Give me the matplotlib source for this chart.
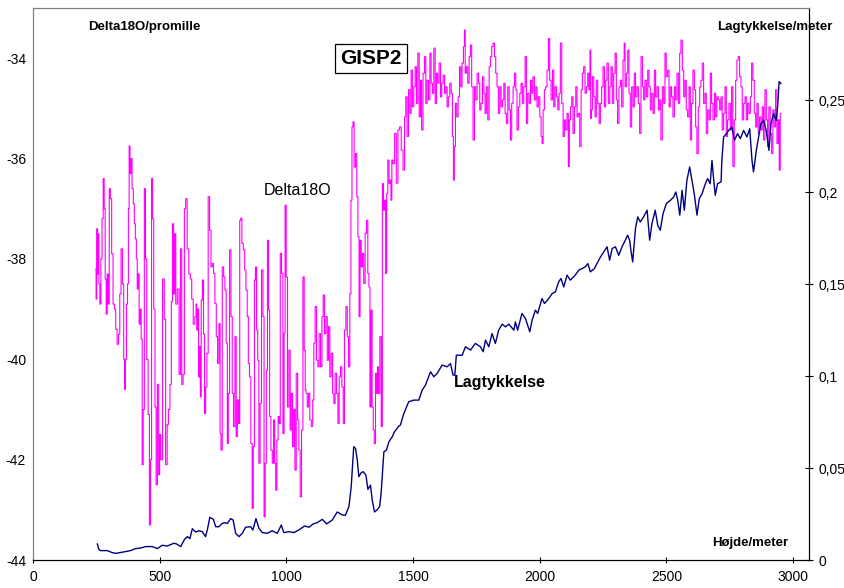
import matplotlib
matplotlib.use("Agg")
import matplotlib.pyplot as plt
from matplotlib.ticker import FuncFormatter

plt.rcParams['font.family'] = ['Liberation Sans', 'DejaVu Sans']
plt.rcParams['axes.unicode_minus'] = False

# Delta18O (promille) vs hoejde (meter)
mag_depth = [
    248, 250, 253, 256, 258, 262, 266, 270, 275, 279, 283, 287, 291, 295, 299, 303, 308, 313, 319, 324,
    329, 335, 340, 345, 350, 356, 360, 363, 367, 371, 375, 378, 381, 385, 388, 394, 398, 402, 406, 410,
    413, 417, 421, 425, 429, 433, 437, 442, 446, 452, 457, 462, 466, 470, 474, 479, 484, 488, 494, 498,
    502, 507, 516, 520, 527, 532, 537, 544, 548, 553, 557, 561, 566, 573, 580, 584, 590, 595, 600, 605,
    612, 618, 624, 629, 636,
    642, 645, 648, 652, 655, 659, 662, 666, 671, 675, 679, 684, 689, 694, 700, 705, 710, 715, 721, 726,
    731, 737, 740, 744, 750, 755, 760, 765, 769, 773, 779, 784, 789, 794, 800, 804, 809, 814, 818, 822,
    827, 833, 838, 843, 848, 852, 857, 863, 867, 872, 876, 880, 885, 889, 894, 899, 905, 910, 914, 919,
    923, 928, 932, 936, 942, 947, 952, 956, 960, 965, 970, 974, 978, 984, 989, 993, 997, 1002, 1007, 1013,
    1017, 1022, 1027, 1032, 1036, 1042, 1047, 1052, 1057, 1063, 1068, 1073,
    1076, 1080, 1085, 1090, 1095, 1102, 1106, 1111, 1116, 1122, 1127, 1132, 1138, 1143, 1148, 1153, 1159,
    1164, 1169, 1174, 1180, 1185, 1190, 1195, 1201, 1206, 1211, 1216, 1222, 1227, 1232, 1238, 1243, 1248,
    1253, 1257, 1261, 1265, 1270, 1276, 1280, 1285, 1289, 1293, 1298, 1303, 1308, 1314, 1319, 1324, 1328,
    1332, 1336, 1341, 1345, 1349, 1355, 1358, 1362, 1366, 1372, 1377, 1381, 1386, 1390, 1394, 1398, 1403,
    1408,
    1411, 1415, 1418, 1424, 1431, 1437, 1444, 1450, 1457, 1464, 1469, 1474, 1479, 1485, 1490, 1495, 1500,
    1506, 1511, 1516, 1522, 1527, 1532, 1536, 1543, 1548, 1553, 1558, 1564, 1569, 1574, 1579, 1585, 1590,
    1595, 1600, 1606, 1611, 1616, 1622, 1627, 1632, 1637, 1642, 1648, 1653, 1658, 1661, 1665, 1670, 1675,
    1681, 1686, 1691, 1696, 1702, 1704, 1708, 1713, 1719, 1724, 1729, 1734, 1740, 1745, 1750, 1756, 1761,
    1766, 1771, 1777, 1782, 1787, 1792, 1798, 1803, 1808, 1813, 1819, 1824, 1829, 1834, 1840, 1845, 1850,
    1856, 1861, 1866, 1871, 1877, 1882, 1887, 1892, 1898, 1903, 1908, 1913, 1919, 1924, 1929, 1934, 1940,
    1945, 1950, 1955, 1961, 1966, 1971, 1976, 1982, 1987, 1992, 1998, 2003, 2008, 2011, 2016, 2021, 2026,
    2032, 2037, 2042, 2048, 2053, 2058, 2063, 2069, 2074, 2079, 2084, 2090, 2095, 2100, 2105, 2111, 2115,
    2119, 2124, 2129, 2134, 2140, 2145, 2150, 2155, 2161, 2166, 2171, 2176, 2182, 2187, 2192, 2197,
    2200, 2203, 2205, 2211, 2216, 2221, 2226, 2232, 2237, 2242, 2247, 2253, 2258, 2263, 2268, 2274, 2279,
    2284, 2289, 2295, 2300, 2305, 2310, 2316, 2321, 2326, 2332, 2335, 2339, 2345, 2350, 2355, 2360, 2366,
    2371, 2376, 2381, 2387, 2392, 2397, 2403, 2408, 2413, 2418, 2424, 2429, 2434, 2439, 2445, 2450, 2455,
    2460, 2466, 2471, 2476, 2481, 2487, 2492, 2497, 2502, 2508, 2513, 2518, 2523, 2529, 2534, 2539, 2545,
    2550, 2555, 2560, 2566, 2571, 2576, 2581, 2587, 2592, 2597, 2602, 2608, 2613, 2618, 2623, 2629, 2634,
    2639, 2644, 2650, 2655, 2660, 2666, 2671, 2676, 2681, 2687, 2692, 2697, 2702, 2708, 2713, 2718, 2723,
    2729, 2734, 2739, 2744, 2750, 2755, 2760, 2765, 2771, 2776, 2781, 2786, 2792, 2797, 2802, 2808, 2813,
    2818, 2823, 2829, 2834, 2839, 2844, 2850, 2855, 2860, 2865, 2871, 2876, 2881, 2886, 2892, 2897, 2902,
    2907, 2913, 2918, 2923, 2928, 2934, 2939, 2944, 2947, 2952,
]
mag_delta = [
    -38.2, -38.8, -37.4, -38.3, -37.5, -38.5, -38.9, -38.0, -37.2, -36.4, -37.0, -38.4, -39.1, -38.3, -38.9, -36.6, -36.8, -37.9, -38.9, -39.0,
    -39.4, -39.7, -39.5, -38.7, -37.8, -38.5, -40.0, -40.6, -40.0, -38.9, -38.5, -37.0, -35.75, -36.3, -36.0, -36.6, -36.9, -37.3, -37.6, -38.0,
    -38.6, -38.3, -39.3, -39.0, -39.6, -42.1, -41.0, -36.6, -38.0, -40.0, -41.1, -43.3, -42.0, -36.4, -37.2, -39.0, -40.95, -42.5, -40.5, -42.3,
    -41.5, -42.0, -38.4, -39.2, -42.1, -41.3, -41.0, -40.5, -38.85, -37.3, -38.7, -37.5, -38.9, -38.6, -40.3, -37.8, -40.5, -40.3, -37.0, -36.8,
    -37.8, -38.3, -38.4, -38.8, -39.3,
    -39.15, -38.9, -39.42, -39.0, -40.35, -39.75, -40.75, -38.82, -38.42, -39.5, -41.08, -40.55, -39.88, -36.76, -37.43, -38.16, -38.09, -38.29, -38.89, -39.55,
    -40.08, -39.29, -41.48, -41.81, -38.16, -38.36, -38.62, -39.68, -41.68, -40.68, -37.82, -39.15, -40.68, -41.34, -39.55, -41.54, -40.81, -41.28, -37.23, -37.19,
    -37.69, -37.82, -38.22, -38.62, -39.15, -40.08, -40.35, -41.68, -42.97, -41.74, -38.42, -38.16, -39.42, -40.02, -42.07, -40.88, -38.22, -39.15, -43.14, -42.07,
    -40.22, -37.63, -39.02, -41.14, -41.81, -42.07, -41.21, -42.07, -42.61, -41.61, -41.14, -41.28, -37.89, -38.29, -41.48, -39.48, -36.93, -38.36, -40.95, -39.82,
    -41.41, -40.68, -41.74, -41.0, -42.21, -40.28, -41.21, -41.81, -42.74, -41.41, -38.36, -39.82,
    -40.61, -40.68, -40.95, -40.68, -41.21, -41.34, -40.81, -39.68, -38.95, -40.02, -40.15, -39.49, -40.15, -39.15, -38.72, -39.49, -39.15,
    -40.02, -39.35, -40.35, -39.88, -40.68, -40.88, -40.28, -40.68, -41.28, -40.35, -40.15, -40.55, -41.28, -39.42, -38.95, -39.55, -40.15,
    -38.69, -36.83, -35.37, -35.27, -36.17, -35.90, -36.76, -37.56, -39.15, -37.63, -38.16, -37.89, -38.49, -37.49, -37.23, -38.29, -38.56,
    -40.95, -39.02, -40.95, -41.41, -41.68, -40.28, -40.68, -40.15, -40.68, -39.55, -41.34, -36.50, -37.03, -36.83, -38.29, -36.70, -36.03,
    -36.50,
    -36.43, -36.83, -36.03, -36.10, -35.50, -36.49, -35.43, -35.37, -35.83, -36.23, -35.17, -34.77, -35.56, -34.63, -35.10, -34.24, -34.97,
    -34.57, -34.17, -34.90, -33.90, -35.17, -34.44, -35.43, -34.30, -33.97, -34.90, -34.44, -34.83, -33.90, -34.50, -34.70, -33.80, -34.90,
    -34.30, -34.50, -34.10, -34.77, -34.50, -34.34, -34.70, -34.57, -34.97, -34.77, -34.50, -34.70, -35.56, -36.43, -35.76, -34.90, -35.17,
    -34.77, -34.17, -34.57, -34.10, -33.77, -33.44, -34.30, -34.17, -34.50, -33.97, -33.74, -34.57, -35.63, -34.57, -34.83, -34.30, -34.50,
    -35.03, -34.90, -34.37, -34.70, -35.10, -34.57, -35.23, -34.17, -33.97, -33.77, -33.70, -33.97, -34.30, -34.57, -35.10, -34.57, -34.97,
    -34.83, -34.50, -35.10, -35.30, -34.57, -35.03, -35.63, -34.90, -34.57, -34.30, -34.63, -35.43, -34.97, -34.70, -34.50, -34.90, -34.57,
    -33.97, -35.30, -34.70, -34.90, -34.44, -34.70, -34.37, -34.83, -34.57, -34.97, -34.77, -35.17, -35.56, -35.70, -35.03, -34.63, -34.57,
    -34.24, -33.61, -34.44, -34.83, -34.24, -34.97, -34.57, -34.77, -35.03, -34.70, -33.70, -34.90, -35.56, -35.23, -35.43, -35.10, -36.16,
    -35.23, -34.97, -34.77, -35.50, -34.97, -34.57, -35.17, -35.10, -35.76, -34.63, -34.30, -34.17, -34.70, -34.57, -34.30, -34.63,
    -33.84, -35.20, -35.03, -34.37, -34.77, -35.17, -34.44, -34.90, -35.30, -34.90, -34.57, -34.17, -34.97, -34.44, -34.10, -34.90, -34.57,
    -34.17, -34.90, -34.30, -33.90, -34.83, -35.30, -34.57, -34.44, -34.97, -34.04, -33.70, -34.57, -34.30, -33.84, -34.70, -35.37, -34.57,
    -34.97, -34.30, -34.77, -34.57, -34.90, -35.50, -33.97, -34.57, -34.83, -34.44, -34.77, -34.24, -34.57, -35.03, -34.70, -35.10, -34.24,
    -34.77, -34.57, -35.03, -34.83, -35.63, -34.57, -34.90, -33.90, -34.37, -34.24, -34.97, -34.57, -34.77, -35.17, -34.57, -34.83, -34.30,
    -34.90, -33.90, -33.64, -34.24, -34.77, -34.44, -35.03, -35.17, -34.57, -35.63, -34.90, -34.24, -34.63, -35.37, -35.90, -34.97, -34.57,
    -34.44, -34.10, -34.90, -34.70, -35.50, -35.03, -35.23, -34.30, -34.90, -35.23, -34.70, -35.17, -34.77, -34.83, -35.03, -34.77, -35.43,
    -35.10, -34.57, -35.56, -35.23, -34.90, -35.43, -34.57, -36.16, -35.23, -34.44, -34.04, -33.97, -34.37, -34.57, -35.23, -34.90, -34.77,
    -35.23, -34.90, -35.10, -34.77, -34.10, -34.44, -35.10, -35.37, -34.90, -35.50, -35.17, -35.43, -34.97, -35.63, -34.63, -35.23, -35.76,
    -34.97, -35.50, -35.90, -35.03, -35.37, -34.63, -35.70, -35.23, -36.23, -35.10,
]

# Lagtykkelse (meter) vs hoejde (meter)
lag_depth = [
    254, 260, 267, 293, 313, 326, 359, 385, 405, 425, 445, 471, 491, 510, 530, 556, 567, 583, 598, 609,
    619, 629, 642, 655, 668, 681, 688, 698, 712, 721, 734, 747, 756, 767, 780, 790, 800, 813, 826, 839,
    859, 868, 880, 892, 905, 925, 944, 964, 980, 990, 1010, 1030, 1049, 1072, 1089, 1106, 1122, 1142,
    1159, 1181, 1201, 1220, 1233, 1247, 1256, 1266, 1273, 1280, 1286, 1295, 1303, 1314, 1322, 1332,
    1339, 1348, 1358, 1368, 1374, 1385, 1395, 1405, 1418, 1427, 1444,
    1450, 1464, 1483, 1503, 1523, 1536, 1549, 1569, 1582, 1595, 1615, 1635, 1648, 1658, 1665, 1671,
    1694, 1707, 1727, 1746, 1766, 1777, 1786, 1799, 1812, 1825, 1838, 1852, 1865, 1878, 1898, 1904,
    1913, 1930, 1944, 1961, 1970, 1983, 1992, 2009, 2019, 2036, 2049, 2062, 2075, 2084, 2095, 2108,
    2121, 2134, 2145, 2154, 2167, 2180, 2190, 2200, 2216, 2226, 2240, 2253, 2266, 2276, 2286, 2299,
    2312, 2325, 2338, 2347, 2355, 2360, 2367, 2378, 2387, 2397, 2410, 2424, 2434, 2443, 2456, 2466,
    2476, 2487, 2500, 2516, 2529, 2537, 2545, 2553, 2562, 2571, 2581, 2592, 2601, 2610, 2621, 2630,
    2641, 2654, 2663, 2673, 2680, 2687, 2693, 2702, 2716, 2719, 2726, 2737, 2746, 2759, 2769, 2781,
    2792, 2805, 2818, 2829, 2838, 2844, 2855, 2864, 2873, 2884, 2894, 2905, 2913, 2923, 2934, 2940,
    2945, 2952,
]
lag_thick = [
    0.0087, 0.0058, 0.0051, 0.0051, 0.0040, 0.0036, 0.0044, 0.0051, 0.0062, 0.0065, 0.0073, 0.0073, 0.0062, 0.0080, 0.0076, 0.0091, 0.0087, 0.0073, 0.0112, 0.0127,
    0.0116, 0.0170, 0.0152, 0.0159, 0.0154, 0.0127, 0.0163, 0.0232, 0.0221, 0.0181, 0.0181, 0.0199, 0.0203, 0.0199, 0.0225, 0.0217, 0.0145, 0.0127, 0.0145, 0.0178,
    0.0181, 0.0163, 0.0225, 0.0172, 0.0149, 0.0145, 0.0159, 0.0145, 0.0190, 0.0149, 0.0154, 0.0149, 0.0163, 0.0185, 0.0178, 0.0196, 0.0203, 0.0221,
    0.0196, 0.0217, 0.0261, 0.0245, 0.0243, 0.0290, 0.0398, 0.0616, 0.0607, 0.0543, 0.0453, 0.0474, 0.0480, 0.0462, 0.0384, 0.0407,
    0.0326, 0.0261, 0.0272, 0.0290, 0.0362, 0.0588, 0.0597, 0.0643, 0.0670, 0.0697, 0.0728,
    0.0733, 0.0797, 0.0860, 0.0869, 0.0869, 0.0923, 0.0950, 0.1023, 0.0996, 0.1014, 0.1059, 0.1050, 0.1068, 0.1005, 0.1005, 0.1113,
    0.1113, 0.1159, 0.1141, 0.1177, 0.1159, 0.1132, 0.1195, 0.1159, 0.1231, 0.1177, 0.1249, 0.1282, 0.1267, 0.1282, 0.1249, 0.1294,
    0.1249, 0.1340, 0.1312, 0.1240, 0.1303, 0.1358, 0.1340, 0.1421, 0.1394, 0.1421, 0.1448, 0.1457, 0.1512, 0.1530, 0.1484, 0.1548,
    0.1521, 0.1539, 0.1557, 0.1575, 0.1584, 0.1593, 0.1611, 0.1566, 0.1584, 0.1611, 0.1647, 0.1674, 0.1702, 0.1629, 0.1693, 0.1702,
    0.1656, 0.1702, 0.1738, 0.1765, 0.1738, 0.1683, 0.1620, 0.1801, 0.1865, 0.1837, 0.1865, 0.1901, 0.1738, 0.1828, 0.1901, 0.1819,
    0.1792, 0.1883, 0.1937, 0.1955, 0.1973, 0.2000, 0.1955, 0.1874, 0.2009, 0.1901, 0.2064, 0.2136, 0.2064, 0.1991, 0.1874, 0.1964,
    0.1991, 0.2045, 0.2073, 0.2045, 0.2172, 0.2064, 0.1982, 0.2045, 0.2055, 0.2172, 0.2299, 0.2317, 0.2335, 0.2353, 0.2281, 0.2317,
    0.2290, 0.2335, 0.2299, 0.2344, 0.2172, 0.2109, 0.2226, 0.2299, 0.2371, 0.2389, 0.2335, 0.2226, 0.2371, 0.2426, 0.2389, 0.2480,
    0.2600, 0.2590,
]

x_ticks = [0, 500, 1000, 1500, 2000, 2500, 3000]
left_ticks = [-44, -42, -40, -38, -36, -34]
right_ticks = [0, 0.05, 0.1, 0.15, 0.2, 0.25]

fig = plt.figure(figsize=(8.45, 5.88), dpi=100)
ax1 = fig.add_axes([33 / 845, 28 / 588, 776 / 845, 552 / 588])
ax2 = ax1.twinx()

ax1.plot(mag_depth, mag_delta, color="#FF00FF", lw=0.8, drawstyle="steps-mid")
ax2.plot(lag_depth, lag_thick, color="#000080", lw=1.0)

ax1.set_xlim(0, 3063)
ax1.set_ylim(-44, -33)
ax2.set_ylim(0, 0.3)

ax1.set_xticks(x_ticks)
ax1.set_yticks(left_ticks)
ax2.set_yticks(right_ticks)
ax2.yaxis.set_major_formatter(FuncFormatter(lambda v, p: f"{v:g}".replace(".", ",")))

ax1.tick_params(axis="x", direction="inout", length=5, width=0.8, labelsize=10, pad=5)
ax1.tick_params(axis="y", length=0, labelsize=10, pad=5)
ax2.tick_params(axis="y", direction="inout", length=6, width=0.8, labelsize=10, pad=4)

for ax in (ax1, ax2):
    ax.spines["top"].set_color("#808080")
    ax.spines["left"].set_color("#808080")
    ax.spines["bottom"].set_color("black")
    ax.spines["right"].set_color("black")
    for s in ax.spines.values():
        s.set_linewidth(0.8)

ax1.text(0.1437, 0.9656, "Delta18O/promille", transform=ax1.transAxes,
         ha="center", va="center", fontsize=9.5, fontweight="bold")
ax1.text(0.956, 0.9656, "Lagtykkelse/meter", transform=ax1.transAxes,
         ha="center", va="center", fontsize=9.5, fontweight="bold")
ax1.text(0.9246, 0.0308, "Højde/meter", transform=ax1.transAxes,
         ha="center", va="center", fontsize=9.5, fontweight="bold")
ax1.text(0.4356, 0.9085, "GISP2", transform=ax1.transAxes,
         ha="center", va="center", fontsize=15, fontweight="bold",
         bbox=dict(boxstyle="square,pad=0.25", fc="white", ec="black", lw=0.9))
ax1.text(0.3415, 0.670, "Delta18O", transform=ax1.transAxes,
         ha="center", va="center", fontsize=11.5)
ax1.text(0.602, 0.3207, "Lagtykkelse", transform=ax1.transAxes,
         ha="center", va="center", fontsize=11.5, fontweight="bold")

fig.savefig("out.png", dpi=100)
